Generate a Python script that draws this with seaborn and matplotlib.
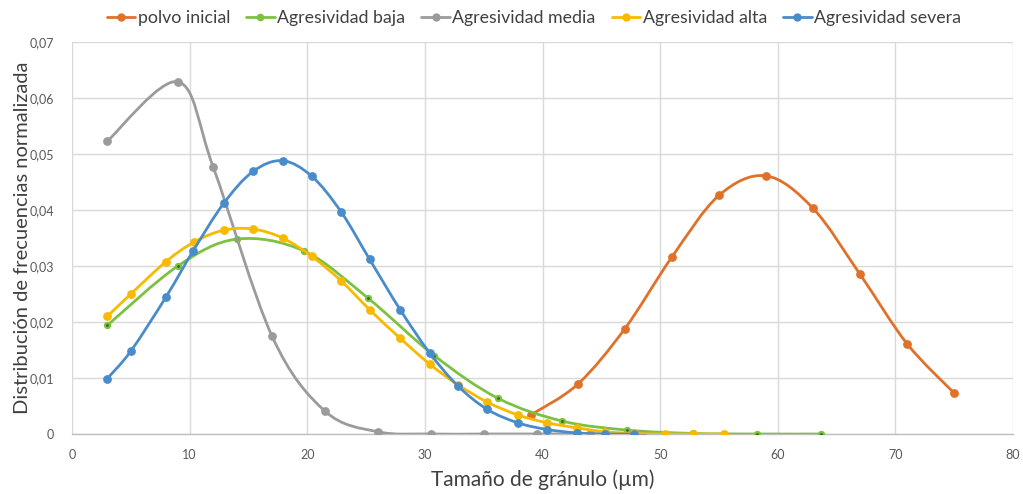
import numpy as np
import pandas as pd
import matplotlib
matplotlib.use("Agg")
import matplotlib.pyplot as plt
import seaborn as sns
from matplotlib.path import Path
from matplotlib.patches import PathPatch
from matplotlib.lines import Line2D
from matplotlib.ticker import FuncFormatter

# ---- data ----
series_names = ["polvo inicial", "Agresividad baja", "Agresividad media",
                "Agresividad alta", "Agresividad severa"]

polvo_x = [39, 43, 47, 51, 55, 59, 63, 67, 71, 75]
polvo_y = [0.0034, 0.0089, 0.0188, 0.0316, 0.0426, 0.0461, 0.0403, 0.0285, 0.0161, 0.0073]

baja_x = [3, 9, 14, 19.7, 25.2, 30.8, 36.2, 41.7, 47.2, 52.8, 58.2, 63.7]
baja_y = [0.0194, 0.0300, 0.0348, 0.0327, 0.0242, 0.0140, 0.0064, 0.0023, 0.0007, 0.0001, 0.0, 0.0]

media_x = [3, 9, 12, 17, 21.5, 26, 30.5, 35, 39.5, 44, 48.5]
media_y = [0.0523, 0.0629, 0.0477, 0.0175, 0.0041, 0.0004, 0.0, 0.0, 0.0, 0.0, 0.0]

alta_x = [3, 5, 8, 10.4, 12.9, 15.4, 17.9, 20.4, 22.9, 25.3, 27.9, 30.4, 32.8, 35.3,
          37.9, 40.4, 42.9, 45.3, 47.8, 50.4, 52.8, 55.4]
alta_y = [0.0210, 0.0250, 0.0308, 0.0343, 0.0364, 0.0366, 0.0350, 0.0317, 0.0273, 0.0222,
          0.0171, 0.0125, 0.0088, 0.0057, 0.0034, 0.0020, 0.0011, 0.0004, 0.0001, 0.0, 0.0, 0.0]

severa_x = [3, 5, 8, 10.3, 12.9, 15.4, 17.9, 20.4, 22.9, 25.3, 27.9, 30.4, 32.8, 35.3,
            37.9, 40.4, 42.9, 45.3, 47.8]
severa_y = [0.0099, 0.0148, 0.0245, 0.0327, 0.0412, 0.0469, 0.0488, 0.0460, 0.0396, 0.0312,
            0.0222, 0.0145, 0.0086, 0.0044, 0.0020, 0.0008, 0.0002, 0.0, 0.0]

xs = [polvo_x, baja_x, media_x, alta_x, severa_x]
ys = [polvo_y, baja_y, media_y, alta_y, severa_y]

colors = ["#E07128", "#7DC142", "#9B9B9B", "#F8BA00", "#4A8CCB"]

x_ticks = [0, 10, 20, 30, 40, 50, 60, 70, 80]
y_ticks = [0, 0.01, 0.02, 0.03, 0.04, 0.05, 0.06, 0.07]

df = pd.concat([pd.DataFrame({"x": x, "y": y, "serie": n})
                for n, x, y in zip(series_names, xs, ys)], ignore_index=True)

# ---- style ----
sns.set_theme(style="white")
plt.rcParams["font.family"] = ["Lato", "DejaVu Sans"]

fig = plt.figure(figsize=(10.23, 4.94), dpi=100)
ax = fig.add_axes([72 / 1023, 60 / 494, 941 / 1023, 392 / 494])


def smooth_path(x, y):
    """Excel-like smoothed line: Catmull-Rom segments as cubic Bezier curves."""
    p = np.column_stack([x, y]).astype(float)
    n = len(p)
    verts = [p[0]]
    codes = [Path.MOVETO]
    for i in range(n - 1):
        p0 = p[i - 1] if i > 0 else p[i]
        p1 = p[i]
        p2 = p[i + 1]
        p3 = p[i + 2] if i + 2 < n else p[i + 1]
        c1 = p1 + (p2 - p0) / 6.0
        c2 = p2 - (p3 - p1) / 6.0
        verts += [c1, c2, p2]
        codes += [Path.CURVE4] * 3
    return Path(verts, codes)


for k, (name, x, y, c) in enumerate(zip(series_names, xs, ys, colors)):
    patch = PathPatch(smooth_path(x, y), facecolor="none", edgecolor=c,
                      lw=2.0, zorder=3 + k, capstyle="round", joinstyle="round")
    ax.add_patch(patch)

# markers through seaborn
for k, (name, c) in enumerate(zip(series_names, colors)):
    sub = df[df["serie"] == name]
    if name == "Agresividad baja":
        sns.scatterplot(data=sub, x="x", y="y", color=c, s=28, linewidth=0,
                        ax=ax, zorder=3.5 + k, legend=False)
        sns.scatterplot(data=sub, x="x", y="y", color="#2E6B1A", s=4, linewidth=0,
                        ax=ax, zorder=3.6 + k, legend=False)
    else:
        sns.scatterplot(data=sub, x="x", y="y", color=c, s=40, linewidth=0,
                        ax=ax, zorder=3.5 + k, legend=False)

ax.set_xlim(0, 80)
ax.set_ylim(0, 0.07)
ax.set_xticks(x_ticks)
ax.set_yticks(y_ticks)
ax.yaxis.set_major_formatter(FuncFormatter(
    lambda v, pos: "0" if abs(v) < 1e-12 else f"{v:.2f}".replace(".", ",")))
ax.grid(True, color="#D9D9D9", lw=1.0)
ax.set_axisbelow(True)
for s in ["top", "right", "left"]:
    ax.spines[s].set_visible(False)
ax.spines["bottom"].set_color("#BFBFBF")
ax.spines["bottom"].set_linewidth(1.0)
ax.tick_params(axis="both", length=0, labelsize=9, labelcolor="#595959")
ax.tick_params(axis="y", pad=13)
ax.tick_params(axis="x", pad=11)

ax.set_xlabel("Tamaño de gránulo (µm)", fontsize=15, color="#404040", labelpad=6)
ax.set_ylabel("Distribución de frecuencias normalizada", fontsize=14.5,
              color="#404040")
ax.yaxis.set_label_coords(-0.044, 0.5)

handles = []
for name, c in zip(series_names, colors):
    if name == "Agresividad baja":
        h = Line2D([0], [0], color=c, lw=2, marker="o", markersize=4.5,
                   markerfacecolor=c, markeredgecolor=c)
    else:
        h = Line2D([0], [0], color=c, lw=2, marker="o", markersize=5,
                   markerfacecolor=c, markeredgecolor=c)
    handles.append(h)

leg = fig.legend(handles, series_names, loc="center", bbox_to_anchor=(0.522, 1 - 18 / 494),
                 ncol=5, frameon=False, fontsize=12.8, handlelength=1.6,
                 handletextpad=0.15, columnspacing=0.9, labelcolor="#404040")

fig.savefig("out.png", dpi=100)
